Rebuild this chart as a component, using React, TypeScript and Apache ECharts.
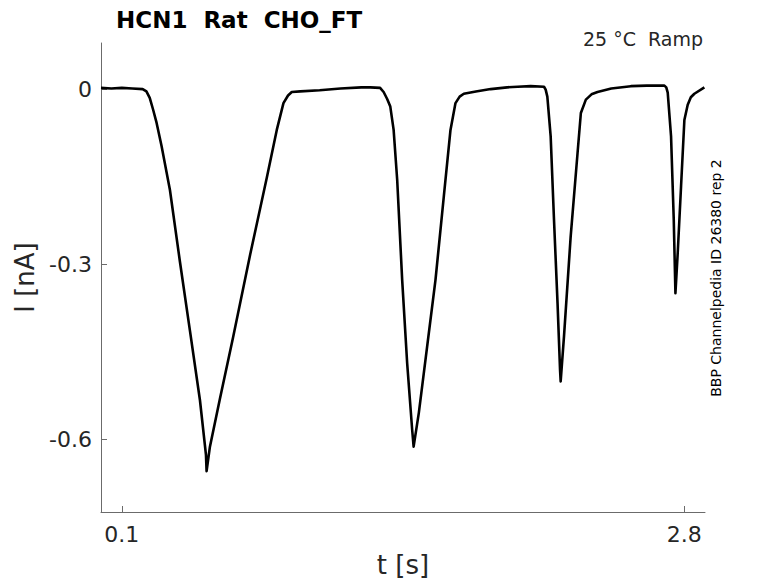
import React, { useEffect, useRef } from "react";
import * as echarts from "echarts";

// time points [s]
const timeS: number[] = [
  0, 0.05, 0.1, 0.15, 0.2, 0.218, 0.234, 0.25, 0.267, 0.291, 0.331, 0.379, 0.427, 0.475,
  0.504, 0.507, 0.523, 0.571, 0.634, 0.716, 0.796, 0.844, 0.876, 0.898, 0.916, 0.957, 1.05,
  1.15, 1.25, 1.293, 1.34, 1.357, 1.374, 1.389, 1.405, 1.422, 1.446, 1.47, 1.494, 1.501,
  1.526, 1.566, 1.606, 1.646, 1.678, 1.702, 1.722, 1.742, 1.8, 1.871, 1.95, 2.0, 2.063,
  2.127, 2.135, 2.143, 2.159, 2.175, 2.192, 2.204, 2.207, 2.223, 2.255, 2.288, 2.304, 2.328,
  2.355, 2.384, 2.45, 2.544, 2.62, 2.705, 2.714, 2.721, 2.737, 2.75, 2.758, 2.769, 2.785,
  2.801, 2.817, 2.832, 2.849, 2.897,
];

// current [nA]
const currentNA: number[] = [
  0.002, 0.001, 0.002, 0.001, 0.0, -0.004, -0.015, -0.035, -0.058, -0.098, -0.173, -0.296,
  -0.414, -0.533, -0.627, -0.655, -0.613, -0.531, -0.426, -0.284, -0.152, -0.07, -0.024,
  -0.011, -0.005, -0.004, -0.002, 0.001, 0.003, 0.003, 0.002, -0.005, -0.017, -0.03, -0.07,
  -0.155, -0.327, -0.47, -0.584, -0.613, -0.555, -0.441, -0.327, -0.184, -0.07, -0.024,
  -0.013, -0.008, -0.004, 0.0, 0.003, 0.004, 0.005, 0.004, -0.001, -0.013, -0.081, -0.224,
  -0.367, -0.481, -0.501, -0.424, -0.253, -0.11, -0.041, -0.018, -0.009, -0.005, 0.001,
  0.005, 0.006, 0.006, 0.003, -0.006, -0.081, -0.224, -0.35, -0.281, -0.167, -0.053, -0.027,
  -0.014, -0.008, 0.003,
];

const xTicks: number[] = [0.1, 2.8];
const yTicks: number[] = [0, -0.3, -0.6];

const titleText = "HCN1\u00a0\u00a0Rat\u00a0\u00a0CHO_FT";
const condText = "25 \u00b0C\u00a0\u00a0Ramp";
const idText = "BBP Channelpedia ID 26380 rep 2";

export default function App() {
  const ref = useRef<HTMLDivElement>(null);
  useEffect(() => {
    if (!ref.current) return;
    const chart = echarts.init(ref.current, null, { renderer: "svg" });
    const font = "'DejaVu Sans', sans-serif";
    const axisColor = "#6b6b6b";
    const textColor = "#262626";
    const data = timeS.map((t, i) => [t, currentNA[i]]);
    chart.setOption({
      animation: false,
      backgroundColor: "#ffffff",
      title: {
        text: titleText,
        left: 111,
        top: 3,
        textStyle: { fontFamily: font, fontSize: 23, fontWeight: "bold", color: "#000" },
      },
      grid: { left: 101, top: 43, right: 73, bottom: 71, containLabel: false },
      xAxis: {
        type: "value",
        min: 0,
        max: 2.9,
        name: "t [s]",
        nameLocation: "middle",
        nameGap: 40,
        nameTextStyle: { fontFamily: font, fontSize: 26, color: textColor },
        axisLine: { show: true, onZero: false, lineStyle: { color: axisColor, width: 1 } },
        axisTick: { show: true, inside: true, length: 6, customValues: xTicks, lineStyle: { color: axisColor } },
        axisLabel: {
          customValues: xTicks,
          fontFamily: font,
          fontSize: 22,
          color: textColor,
          margin: 11,
          formatter: (v: number) => String(v),
        },
        splitLine: { show: false },
      },
      yAxis: {
        type: "value",
        min: -0.725,
        max: 0.079,
        name: "I [nA]",
        nameLocation: "middle",
        nameGap: 58,
        nameTextStyle: { fontFamily: font, fontSize: 26, color: textColor },
        axisLine: { show: true, onZero: false, lineStyle: { color: axisColor, width: 1 } },
        axisTick: { show: true, inside: true, length: 6, customValues: yTicks, lineStyle: { color: axisColor } },
        axisLabel: {
          customValues: yTicks,
          fontFamily: font,
          fontSize: 22,
          color: textColor,
          margin: 9,
          formatter: (v: number) => String(Math.round(v * 10) / 10),
        },
        splitLine: { show: false },
      },
      graphic: [
        {
          type: "text",
          right: 75,
          top: 29,
          style: { text: condText, font: `19px ${font}`, fill: textColor },
        },
        {
          type: "text",
          x: 716,
          y: 278,
          rotation: Math.PI / 2,
          style: {
            text: idText,
            font: `14px ${font}`,
            fill: "#000",
            textAlign: "center",
            textVerticalAlign: "middle",
          },
        },
      ],
      series: [
        {
          type: "line",
          data,
          showSymbol: false,
          lineStyle: { color: "#000", width: 2.6, join: "round" },
          silent: true,
        },
      ],
    });
    return () => chart.dispose();
  }, []);
  return (
    <div
      ref={ref}
      style={{ position: "fixed", left: 0, top: 0, width: 778, height: 583, background: "#fff" }}
    />
  );
}
